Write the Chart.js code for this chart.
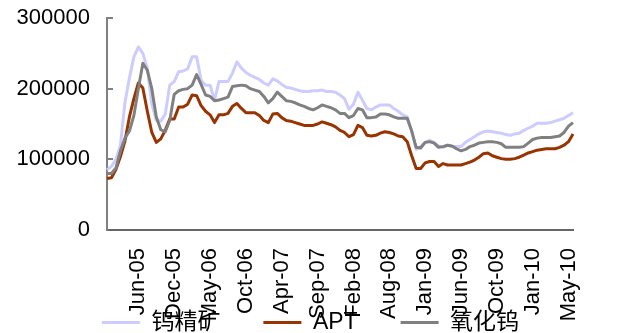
<!DOCTYPE html>
<html>
<head>
<meta charset="utf-8">
<script src="https://cdn.jsdelivr.net/npm/chart.js@4.4.1/dist/chart.umd.min.js"></script>
<style>
  html, body { margin: 0; padding: 0; background: #fff; width: 637px; height: 333px; overflow: hidden; }
  #wrap { width: 637px; height: 344px; }
</style>
</head>
<body>
<div id="wrap"><canvas id="c" width="637" height="344"></canvas></div>
<script>
// Tungsten price series (yuan/ton), weekly observations Jan-05 .. May-10
const tickLabels = ['Jun-05', 'Dec-05', 'May-06', 'Oct-06', 'Apr-07', 'Sep-07', 'Feb-08',
                    'Aug-08', 'Jan-09', 'Jun-09', 'Oct-09', 'Jan-10', 'May-10'];
const firstLabelAt = 7;     // observation index of the first labelled week
const labelEvery = 8;       // one label every 8 observations

// 钨精矿 (tungsten concentrate)
const oreValues = [
  85000, 90000, 100000, 120000, 180000, 215000, 245000, 259000, 250000, 229000,
  178000, 155000, 154000, 164000, 205000, 210000, 224000, 225000, 228000, 245000,
  245000, 212000, 205000, 205000, 184000, 210000, 210000, 210000, 222000, 238000,
  229000, 223000, 219000, 216000, 213000, 208000, 205000, 214000, 211000, 206000,
  202000, 201000, 199000, 197000, 196000, 196000, 197000, 197000, 198000, 196000,
  196000, 195000, 191000, 186000, 171000, 178000, 195000, 184000, 172000, 170000,
  174000, 177000, 177000, 177000, 172000, 168000, 163000, 160000, 140000, 114000,
  118000, 124000, 127000, 124000, 119000, 117000, 120000, 118000, 118000, 118000,
  124000, 128000, 132000, 136000, 139000, 140000, 139000, 138000, 137000, 135000,
  134000, 136000, 137000, 141000, 144000, 147000, 151000, 151000, 151000, 152000,
  154000, 156000, 158000, 162000, 166000
];

// APT (ammonium paratungstate)
const aptValues = [
  73000, 74000, 86000, 104000, 126000, 160000, 186000, 208000, 201000, 168000,
  138000, 124000, 129000, 141000, 157000, 157000, 174000, 174000, 178000, 191000,
  190000, 176000, 168000, 163000, 152000, 163000, 163000, 165000, 175000, 179000,
  172000, 166000, 166000, 166000, 162000, 155000, 152000, 164000, 165000, 159000,
  155000, 154000, 152000, 150000, 148000, 148000, 148000, 150000, 153000, 151000,
  149000, 146000, 141000, 138000, 132000, 135000, 148000, 145000, 134000, 133000,
  134000, 137000, 139000, 138000, 136000, 133000, 132000, 125000, 105000, 87000,
  87000, 95000, 97000, 97000, 90000, 94000, 92000, 92000, 92000, 92000,
  94000, 96000, 99000, 103000, 108000, 109000, 105000, 103000, 101000, 100000,
  100000, 101000, 103000, 106000, 109000, 111000, 113000, 114000, 115000, 115000,
  115000, 117000, 120000, 125000, 136000
];

// 氧化钨 (tungsten oxide)
const oxideValues = [
  80000, 80000, 88000, 112000, 130000, 140000, 162000, 200000, 236000, 226000,
  200000, 160000, 142000, 139000, 155000, 192000, 197000, 199000, 200000, 205000,
  220000, 206000, 191000, 189000, 183000, 184000, 186000, 188000, 203000, 204000,
  205000, 204000, 200000, 198000, 196000, 189000, 180000, 186000, 195000, 189000,
  183000, 182000, 180000, 177000, 175000, 172000, 170000, 173000, 177000, 175000,
  173000, 170000, 165000, 165000, 159000, 162000, 172000, 170000, 159000, 159000,
  160000, 164000, 164000, 163000, 160000, 158000, 158000, 158000, 140000, 117000,
  116000, 124000, 125000, 123000, 117000, 118000, 120000, 119000, 115000, 112000,
  114000, 118000, 120000, 123000, 124000, 125000, 125000, 124000, 122000, 117000,
  117000, 117000, 117000, 118000, 123000, 128000, 130000, 131000, 131000, 131000,
  132000, 133000, 138000, 147000, 152000
];

const yTicks = [0, 100000, 200000, 300000];

// one category per observation, labelled at every 8th week
const categories = oreValues.map((_, i) => {
  const k = i - firstLabelAt;
  return (k >= 0 && k % labelEvery === 0) ? (tickLabels[k / labelEvery] || '') : '';
});

const FONT = "'Liberation Sans', 'Noto Sans CJK SC', Arial, sans-serif";
Chart.defaults.color = '#000';
Chart.defaults.font.family = FONT;

// Axis boxes are kept tight for the layout; let their tick labels spill
// past those boxes (x labels run down into the legend band, y labels left).
const looseTickLabels = {
  id: 'looseTickLabels',
  afterLayout(chart) {
    chart.scales.x.bottom = chart.height;
    chart.scales.y.left = 0;
  }
};

new Chart(document.getElementById('c'), {
  type: 'line',
  data: {
    labels: categories,
    datasets: [
      { label: '钨精矿', data: oreValues,   borderColor: '#CCCCFF', borderWidth: 3, order: 3 },
      { label: 'APT',    data: aptValues,   borderColor: '#993300', borderWidth: 3, order: 2 },
      { label: '氧化钨', data: oxideValues, borderColor: '#808080', borderWidth: 3, order: 1 }
    ]
  },
  plugins: [looseTickLabels],
  options: {
    responsive: false,
    animation: false,
    devicePixelRatio: 1,
    elements: {
      point: { radius: 0, hoverRadius: 0 },
      line: { tension: 0, fill: false, borderJoinStyle: 'round' }
    },
    layout: { padding: { top: 18, right: 64, left: 48, bottom: 0 } },
    plugins: {
      tooltip: { enabled: false },
      legend: {
        position: 'bottom',
        align: 'center',
        labels: {
          usePointStyle: true,
          pointStyle: 'line',
          pointStyleWidth: 38,
          padding: 43,
          color: '#000',
          font: { size: 23, family: FONT },
          sort: (a, b) => a.datasetIndex - b.datasetIndex
        }
      }
    },
    scales: {
      x: {
        type: 'category',
        offset: false,
        afterFit: (s) => { s.height = 38; s.paddingLeft = 0; s.paddingRight = 0; },
        grid: { display: false, drawTicks: false },
        border: { display: true, color: '#666666', width: 2 },
        ticks: {
          autoSkip: false,
          maxRotation: 90,
          minRotation: 90,
          padding: 18,
          color: '#000',
          font: { size: 22, family: FONT }
        }
      },
      y: {
        min: 0,
        max: 300000,
        afterFit: (s) => { s.width = 59; s.paddingTop = 0; s.paddingBottom = 0; },
        afterBuildTicks: (s) => { s.ticks = yTicks.map(v => ({ value: v })); },
        grid: { display: true, drawOnChartArea: false, drawTicks: true, tickLength: -6, color: '#808080', lineWidth: 2 },
        border: { display: true, color: '#808080', width: 2 },
        ticks: {
          padding: 23,
          color: '#000',
          font: { size: 22, family: FONT },
          callback: (v) => String(v)
        }
      }
    }
  }
});
</script>
</body>
</html>
